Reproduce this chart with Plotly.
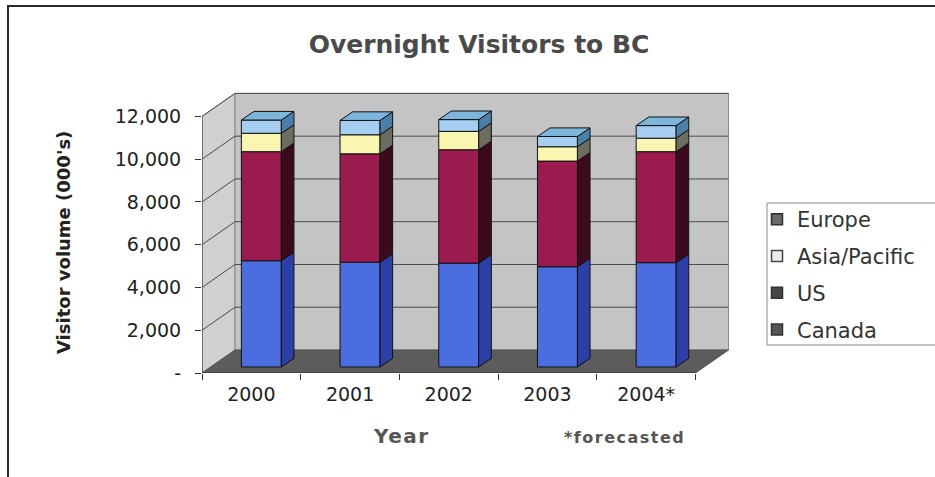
import plotly.graph_objects as go

# ---- data (thousands of overnight visitors) ----
years = ["2000", "2001", "2002", "2003", "2004*"]
canada = [4970, 4900, 4860, 4690, 4880]
us = [5100, 5070, 5300, 4940, 5190]
asia_pacific = [860, 890, 860, 670, 630]
europe = [620, 670, 550, 480, 590]
y_ticks = [0, 2000, 4000, 6000, 8000, 10000, 12000]
y_tick_labels = ["-", "2,000", "4,000", "6,000", "8,000", "10,000", "12,000"]

# ---- page geometry ----
W, H = 935, 477
L, R, T, B = 202, 195, 88, 104
plot_w = W - L - R
plot_h = H - T - B
CAT_PX = 98.7          # pixels per category
UNIT_PX = 0.021383     # pixels per visitor unit
x_range = [-0.5, -0.5 + plot_w / CAT_PX]
y_range = [0, plot_h / UNIT_PX]

# depth of the 3-D box (back wall offset) in data units
WALL_DX = 33 / CAT_PX
WALL_DY = 23 / UNIT_PX
# bars stand part-way into the box
BAR_DX = 10 / CAT_PX
BAR_BASE = 6 / UNIT_PX
BAR_W = 0.405
BAR_DEPTH_X = 12.6 / CAT_PX
BAR_DEPTH_Y = 8.6 / UNIT_PX

FONT = "DejaVu Sans"


def px_x(px):
    return (px - L) / plot_w


def px_y(py):
    return (H - B - py) / plot_h


series = [
    ("Canada", canada, "#4a6ddf", "#2b3fa6"),
    ("US", us, "#9b1b4f", "#3b0a1c"),
    ("Asia/Pacific", asia_pacific, "#f8f6b0", "#6c6c60"),
    ("Europe", europe, "#a6cef0", "#4c7fa8"),
]
EUROPE_TOP = "#7db5dc"

xs = list(range(len(years)))
fig = go.Figure()

cum = [BAR_BASE] * len(years)
for name, vals, front, side in series:
    bases = list(cum)
    tops = [b + v for b, v in zip(bases, vals)]
    # front faces
    fig.add_trace(go.Bar(
        x=xs, y=vals, base=bases, width=BAR_W, offset=BAR_DX - BAR_W / 2,
        marker=dict(color=front, line=dict(color="#111111", width=1)),
        name=name, showlegend=False, hoverinfo="skip",
    ))
    # right-hand side faces
    sx, sy = [], []
    for x0, b, t in zip(xs, bases, tops):
        xr = x0 + BAR_DX + BAR_W / 2
        sx += [xr, xr + BAR_DEPTH_X, xr + BAR_DEPTH_X, xr, xr, None]
        sy += [b, b + BAR_DEPTH_Y, t + BAR_DEPTH_Y, t, b, None]
    fig.add_trace(go.Scatter(
        x=sx, y=sy, mode="lines", fill="toself", fillcolor=side,
        line=dict(color="#111111", width=1), showlegend=False, hoverinfo="skip",
    ))
    cum = tops

# top faces of the stacks
tx, ty = [], []
for x0, t in zip(xs, cum):
    xl = x0 + BAR_DX - BAR_W / 2
    xr = x0 + BAR_DX + BAR_W / 2
    tx += [xl, xr, xr + BAR_DEPTH_X, xl + BAR_DEPTH_X, xl, None]
    ty += [t, t, t + BAR_DEPTH_Y, t + BAR_DEPTH_Y, t, None]
fig.add_trace(go.Scatter(
    x=tx, y=ty, mode="lines", fill="toself", fillcolor=EUROPE_TOP,
    line=dict(color="#111111", width=1), showlegend=False, hoverinfo="skip",
))

# legend entries (grey swatches)
legend_swatches = [
    ("Europe", "#6a6a6a", "#2e2e2e"),
    ("Asia/Pacific", "#ececec", "#444444"),
    ("US", "#474747", "#333333"),
    ("Canada", "#555555", "#333333"),
]
for name, fill, edge in legend_swatches:
    fig.add_trace(go.Scatter(
        x=[None], y=[None], mode="markers", name=name, legendgroup=name,
        marker=dict(symbol="square", size=11, color=fill, line=dict(color=edge, width=1.5)),
    ))

# ---- walls, floor and grid ----
x0w, x1w = -0.5, len(years) - 0.5
ytop = y_ticks[-1]
shapes = []
# left wall
shapes.append(dict(
    type="path", xref="x", yref="y", layer="below",
    path=f"M {x0w},0 L {x0w + WALL_DX},{WALL_DY} L {x0w + WALL_DX},{ytop + WALL_DY} L {x0w},{ytop} Z",
    fillcolor="#d0d0d0", line=dict(color="#8a8a8a", width=1),
))
# back wall
shapes.append(dict(
    type="rect", xref="x", yref="y", layer="below",
    x0=x0w + WALL_DX, x1=x1w + WALL_DX, y0=WALL_DY, y1=ytop + WALL_DY,
    fillcolor="#c4c4c4", line=dict(color="#8a8a8a", width=1),
))
# floor
shapes.append(dict(
    type="path", xref="x", yref="y", layer="below",
    path=f"M {x0w},0 L {x1w},0 L {x1w + WALL_DX},{WALL_DY} L {x0w + WALL_DX},{WALL_DY} Z",
    fillcolor="#5c5c5c", line=dict(color="#555555", width=1),
))
# gridlines on both walls
for v in y_ticks[1:]:
    shapes.append(dict(
        type="line", xref="x", yref="y", layer="below",
        x0=x0w, y0=v, x1=x0w + WALL_DX, y1=v + WALL_DY,
        line=dict(color="#4a4a4a", width=1),
    ))
    shapes.append(dict(
        type="line", xref="x", yref="y", layer="below",
        x0=x0w + WALL_DX, y0=v + WALL_DY, x1=x1w + WALL_DX, y1=v + WALL_DY,
        line=dict(color="#4a4a4a", width=1),
    ))
# front axis lines
shapes.append(dict(type="line", xref="x", yref="y", x0=x0w, y0=0, x1=x0w, y1=ytop,
                   line=dict(color="#333333", width=1)))
shapes.append(dict(type="line", xref="x", yref="y", x0=x0w, y0=0, x1=x1w, y1=0,
                   line=dict(color="#333333", width=1)))
# legend box
shapes.append(dict(type="rect", xref="paper", yref="paper",
                   x0=px_x(767), x1=px_x(945), y0=px_y(345), y1=px_y(203),
                   line=dict(color="#8a8a8a", width=1), fillcolor="rgba(0,0,0,0)"))
# outer frame
shapes.append(dict(type="rect", xref="paper", yref="paper",
                   x0=px_x(8), x1=px_x(945), y0=px_y(495), y1=px_y(6),
                   line=dict(color="#2a2a2a", width=2), fillcolor="rgba(0,0,0,0)"))

annotations = [
    dict(text="Visitor volume (000's)", xref="paper", yref="paper",
         x=px_x(63), y=px_y(243), xanchor="center", yanchor="middle",
         textangle=-90, showarrow=False,
         font=dict(family=FONT, size=18, color="#222222", weight="bold")),
    dict(text='<span style="letter-spacing:1.5px">Year</span>', xref="paper", yref="paper",
         x=px_x(401), y=px_y(436), xanchor="center", yanchor="middle", showarrow=False,
         font=dict(family=FONT, size=20, color="#555555", weight="bold")),
    dict(text='<span style="letter-spacing:1.5px">*forecasted</span>', xref="paper", yref="paper",
         x=px_x(624), y=px_y(437), xanchor="center", yanchor="middle", showarrow=False,
         font=dict(family=FONT, size=16, color="#555555", weight="bold")),
]

fig.update_layout(
    width=W, height=H,
    margin=dict(l=L, r=R, t=T, b=B, pad=0),
    paper_bgcolor="white", plot_bgcolor="rgba(0,0,0,0)",
    barmode="overlay",
    title=dict(text="Overnight Visitors to BC", xref="container", yref="container",
               x=479 / W, y=1 - 44 / H, xanchor="center", yanchor="middle",
               font=dict(family=FONT, size=25, color="#4a4a4a", weight="bold")),
    xaxis=dict(range=x_range, tickvals=xs, ticktext=years, ticks="",
               showgrid=False, zeroline=False, showline=False,
               ticklabelstandoff=8,
               tickfont=dict(family=FONT, size=19, color="#222222"),
               minor=dict(tickvals=[i - 0.5 for i in range(len(years) + 1)],
                          ticks="outside", ticklen=6, tickcolor="#333333", showgrid=False)),
    yaxis=dict(range=y_range, tickvals=y_ticks, ticktext=y_tick_labels,
               ticks="outside", ticklen=6, tickcolor="#333333",
               showgrid=False, zeroline=False, showline=False,
               ticklabelstandoff=10,
               tickfont=dict(family=FONT, size=19, color="#222222")),
    shapes=shapes,
    annotations=annotations,
    legend=dict(x=px_x(757), y=px_y(199), xanchor="left", yanchor="top",
                bgcolor="rgba(0,0,0,0)", borderwidth=0,
                traceorder="grouped", tracegroupgap=6.5,
                font=dict(family=FONT, size=21, color="#333333")),
    showlegend=True,
)

fig.write_html("out.html")
